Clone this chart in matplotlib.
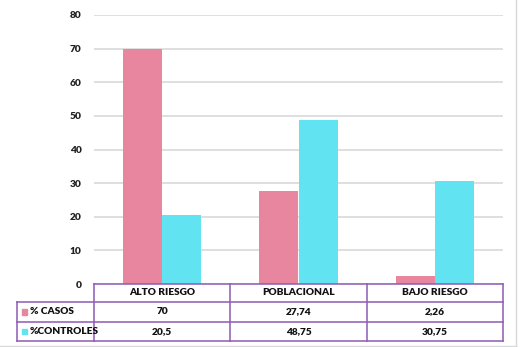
import matplotlib.pyplot as plt
import numpy as np

plt.rcParams['font.family'] = ['Lato', 'DejaVu Sans']
plt.rcParams['font.weight'] = 'heavy'

categories = ['ALTO RIESGO', 'POBLACIONAL', 'BAJO RIESGO']
casos = [70, 27.74, 2.26]
controles = [20.5, 48.75, 30.75]
casos_txt = ['70', '27,74', '2,26']
controles_txt = ['20,5', '48,75', '30,75']
series_names = ['% CASOS', '%CONTROLES']

PINK = '#E8869F'
CYAN = '#62E3F2'
PURPLE = '#8E5AB5'
FS = 7.3

W, H = 520, 347
fig = plt.figure(figsize=(W / 100, H / 100), dpi=100)

# plot area in pixel terms
x0, x1 = 94, 503
y_top, y_zero = 15, 284
ax = fig.add_axes([x0 / W, 1 - y_zero / H, (x1 - x0) / W, (y_zero - y_top) / H])

x = np.arange(len(categories))
bw = 0.287
ax.bar(x - bw / 2, casos, bw, color=PINK, zorder=3)
ax.bar(x + bw / 2, controles, bw, color=CYAN, zorder=3)
ax.set_xlim(-0.5, 2.5)
ax.set_ylim(0, 80)
ax.set_yticks(range(0, 81, 10))
ax.grid(axis='y', color='#D9D9D9', lw=1.2, zorder=0)
ax.set_xticks([])
for s in ax.spines.values():
    s.set_visible(False)
ax.tick_params(axis='y', length=0, pad=9, labelsize=FS, labelcolor='#222222')

# data table under the axis
def fx(px):
    return px / W

def fy(py):
    return 1 - py / H

cols = [17, 94, 230.3, 367, 503.3]
rows = [283.5, 302.3, 321.7, 340.7]
lw = 1.1
# header row: only category columns
fig.add_artist(plt.Line2D([fx(cols[1]), fx(cols[-1])], [fy(rows[0])] * 2, color=PURPLE, lw=lw))
for r in rows[1:]:
    fig.add_artist(plt.Line2D([fx(cols[0]), fx(cols[-1])], [fy(r)] * 2, color=PURPLE, lw=lw))
fig.add_artist(plt.Line2D([fx(cols[0])] * 2, [fy(rows[1]), fy(rows[-1])], color=PURPLE, lw=lw))
for c in cols[1:]:
    fig.add_artist(plt.Line2D([fx(c)] * 2, [fy(rows[0]), fy(rows[-1])], color=PURPLE, lw=lw))

for i, cat in enumerate(categories):
    cx = (cols[i + 1] + cols[i + 2]) / 2
    fig.text(fx(cx), fy((rows[0] + rows[1]) / 2), cat, ha='center', va='center', fontsize=FS, color='#111111')
    fig.text(fx(cx), fy((rows[1] + rows[2]) / 2), casos_txt[i], ha='center', va='center', fontsize=FS, color='#111111')
    fig.text(fx(cx), fy((rows[2] + rows[3]) / 2), controles_txt[i], ha='center', va='center', fontsize=FS, color='#111111')

for j, (name, col) in enumerate(zip(series_names, [PINK, CYAN])):
    cy = (rows[j + 1] + rows[j + 2]) / 2
    fig.add_artist(plt.Rectangle((fx(21.5), fy(cy + 2.7)), 5.4 / W, 5.4 / H, color=col))
    fig.text(fx(30), fy(cy), name, ha='left', va='center', fontsize=FS, color='#111111')

# chart frame edges
fig.add_artist(plt.Line2D([fx(0), fx(516)], [fy(345.5)] * 2, color='#D9D9D9', lw=1))
fig.add_artist(plt.Line2D([fx(516)] * 2, [fy(0), fy(345.5)], color='#D9D9D9', lw=1))

fig.savefig('out.png', dpi=100)
